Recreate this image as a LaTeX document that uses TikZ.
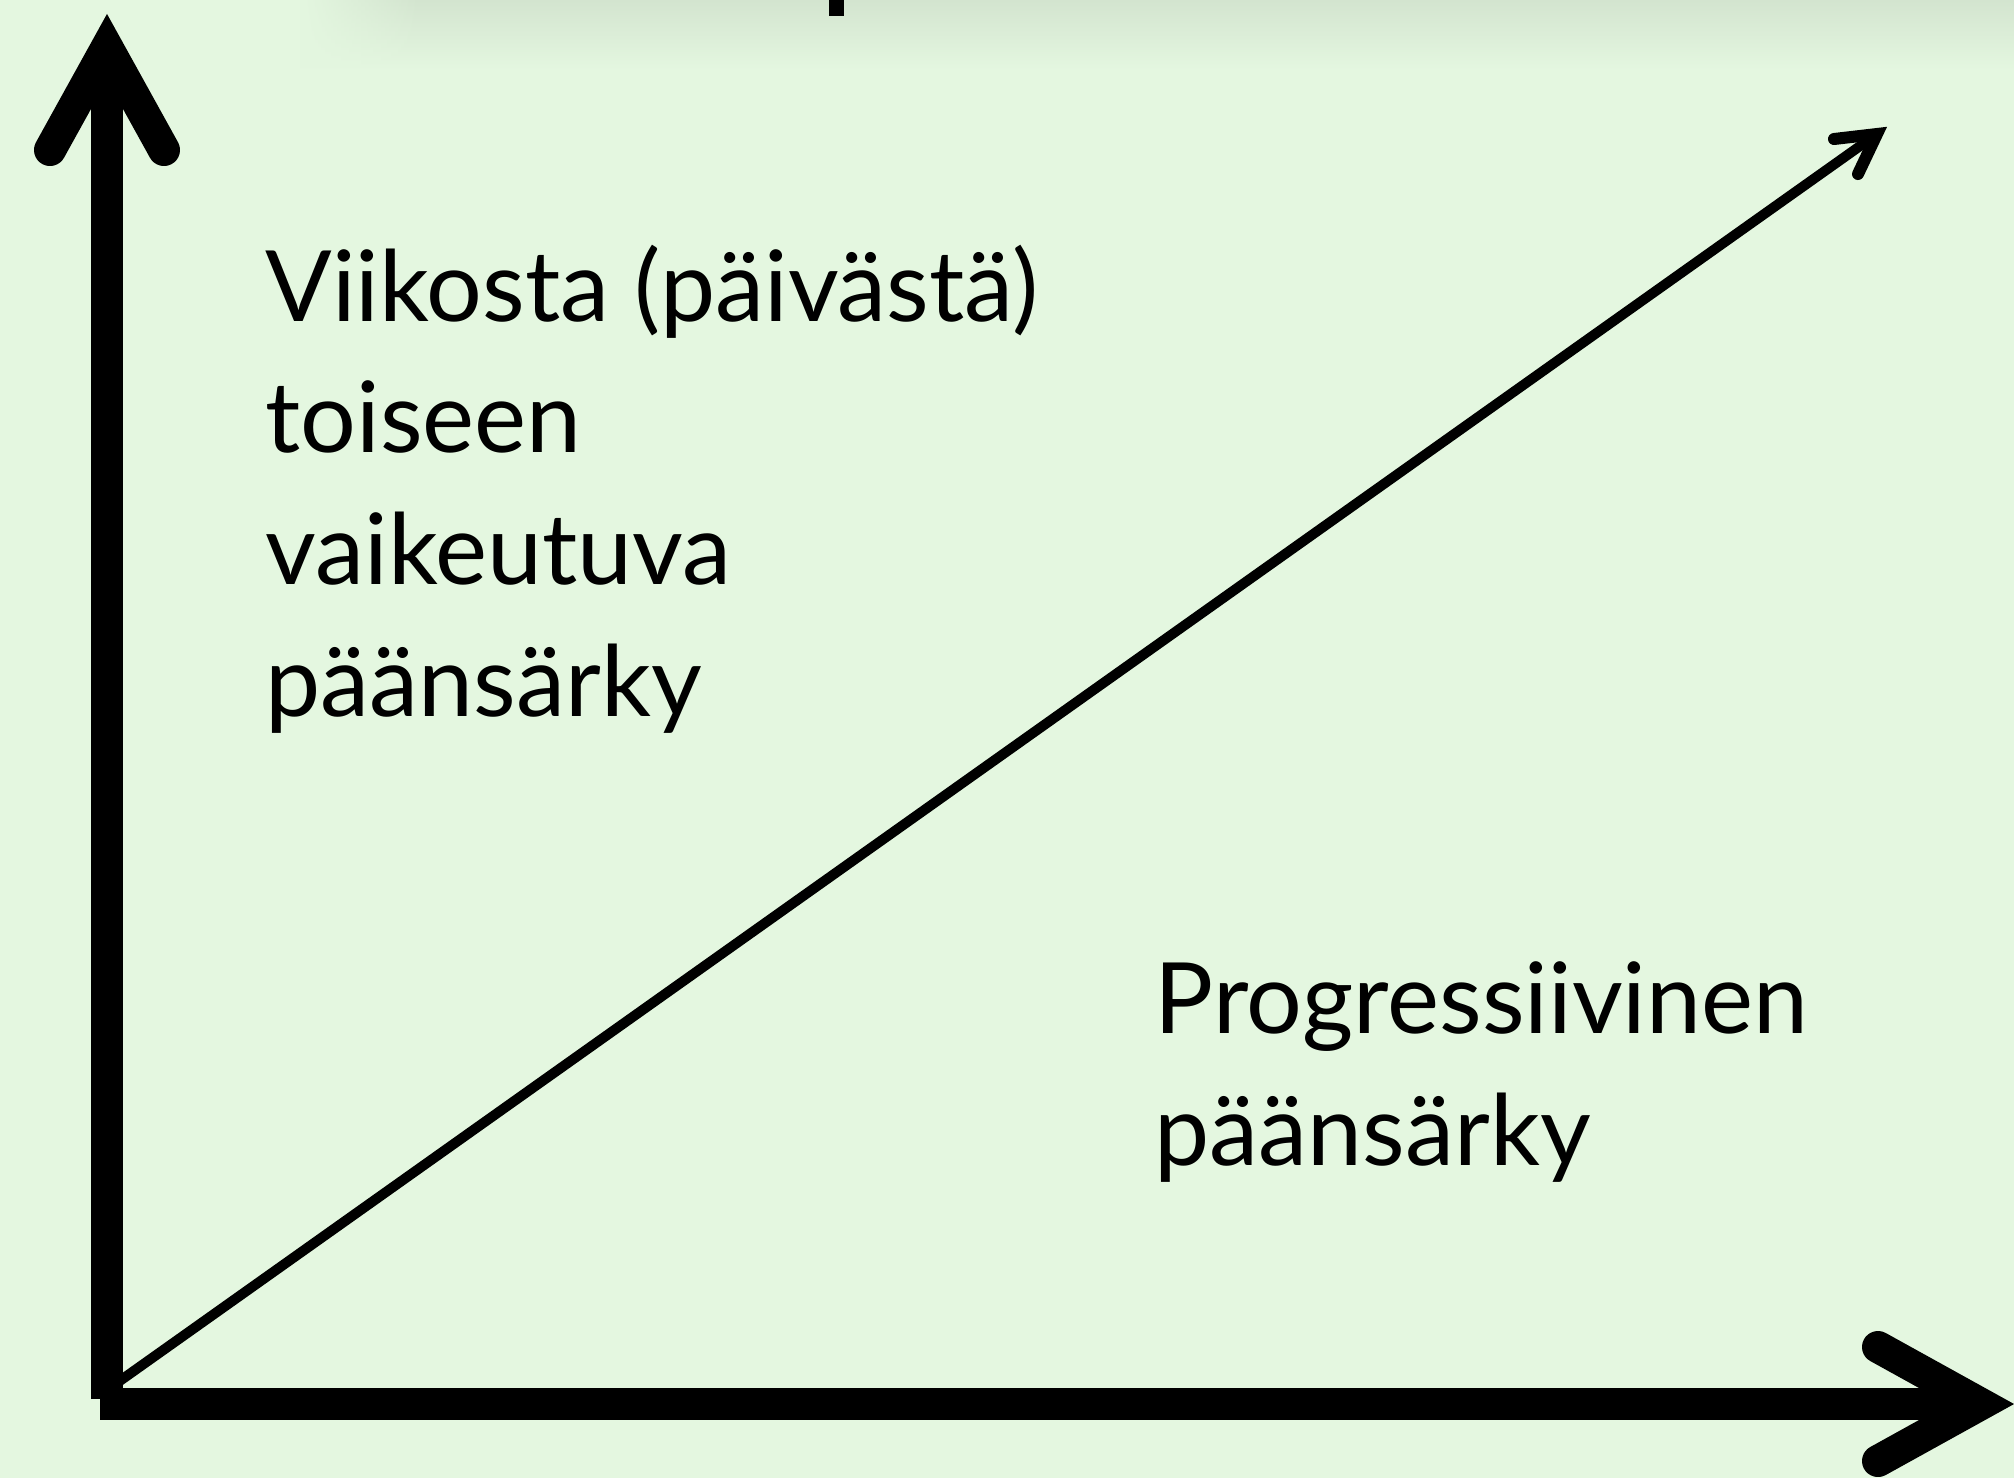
\documentclass[tikz,border=0pt]{standalone}
\usepackage{fontspec}
\setmainfont{Lato}
\usetikzlibrary{calc, fadings}
\definecolor{chartbg}{HTML}{E4F7E0}
\definecolor{titleshadow}{HTML}{D3E4CF}

\begin{document}
\begin{tikzpicture}[x=0.01cm, y=-0.01cm,
  axisline/.style={line width=0.32cm, line cap=butt},
  axishead/.style={line width=0.32cm, line cap=round, line join=miter},
  trendline/.style={line width=0.1cm, line cap=butt},
  trendhead/.style={line width=0.12cm, line cap=round, line join=miter},
  chartlabel/.style={anchor=base west, inner sep=0pt, align=left,
    font=\fontsize{28}{37.4}\selectfont}]
  % background
  \fill[chartbg] (0,0) rectangle (2014,1478);
  \useasboundingbox (0,0) rectangle (2014,1478);
  % title cut off at the top edge
  \shade[top color=titleshadow, bottom color=chartbg] (420,0) rectangle (2014,70);
  \shade[top color=titleshadow, bottom color=chartbg, path fading=west] (300,0) rectangle (421,70);
  \fill[black] (829,0) rectangle (844,16);

  % axes
  \coordinate (origin) at (107,1404);
  \coordinate (ytip) at (107,47);
  \coordinate (xtip) at (1981,1404);
  \draw[axisline] (107,1399) -- (107,60);
  \draw[axisline] (100,1404) -- (1965,1404);
  \draw[axishead] ($(ytip)+(-57,103)$) -- (ytip) -- ($(ytip)+(57,103)$);
  \draw[axishead] ($(xtip)+(-103,-57)$) -- (xtip) -- ($(xtip)+(-103,57)$);

  % diagonal
  \coordinate (trendtip) at (1877,134);
  \draw[trendline] (origin) ++(0,-14) -- (trendtip);
  \draw[trendhead] ($(trendtip)+(-43,5)$) -- (trendtip) -- ($(trendtip)+(-19,40)$);

  % labels (base = last line)
  \node[chartlabel] (weekly) at (265,716) {Viikosta (päivästä)\\toiseen\\vaikeutuva\\päänsärky};
  \node[chartlabel] (progressive) at (1154,1165) {Progressiivinen\\päänsärky};
\end{tikzpicture}
\end{document}
